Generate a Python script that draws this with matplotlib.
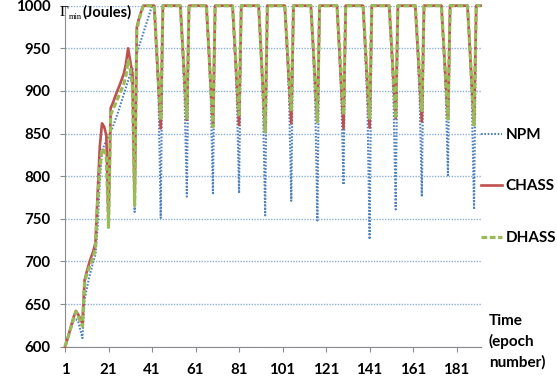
import matplotlib.pyplot as plt

# epochs 1..192, one value per epoch
epochs = list(range(1, 193))

npm = [
    600, 608, 616, 624, 631, 632, 630, 620, 610, 655, 668, 680,
    690, 700, 708, 740, 795, 830, 836, 842, 846, 852, 858, 865,
    872, 880, 888, 896, 904, 912, 920, 928, 758, 944, 952, 960,
    968, 976, 984, 992, 1000, 1000, 950, 890, 751, 1000, 1000, 1000,
    1000, 1000, 1000, 1000, 1000, 1000, 948, 888, 776, 1000, 1000, 1000,
    1000, 1000, 1000, 1000, 1000, 1000, 950, 890, 780, 1000, 1000, 1000,
    1000, 1000, 1000, 1000, 1000, 1000, 949, 889, 780, 1000, 1000, 1000,
    1000, 1000, 1000, 1000, 1000, 1000, 946, 883, 754, 1000, 1000, 1000,
    1000, 1000, 1000, 1000, 1000, 1000, 950, 890, 771, 1000, 1000, 1000,
    1000, 1000, 1000, 1000, 1000, 1000, 948, 885, 748, 1000, 1000, 1000,
    1000, 1000, 1000, 1000, 1000, 1000, 950, 892, 790, 1000, 1000, 1000,
    1000, 1000, 1000, 1000, 1000, 1000, 945, 882, 726, 1000, 1000, 1000,
    1000, 1000, 1000, 1000, 1000, 1000, 950, 888, 761, 1000, 1000, 1000,
    1000, 1000, 1000, 1000, 1000, 1000, 950, 890, 776, 1000, 1000, 1000,
    1000, 1000, 1000, 1000, 1000, 1000, 952, 895, 801, 1000, 1000, 1000,
    1000, 1000, 1000, 1000, 1000, 1000, 950, 888, 761, 1000, 1000, 1000,
]

chass = [
    600, 608, 617, 626, 635, 642, 638, 633, 627, 678, 688, 697,
    705, 712, 722, 780, 835, 862, 858, 848, 743, 880, 886, 893,
    900, 906, 913, 920, 932, 950, 935, 920, 766, 975, 985, 993,
    1000, 1000, 1000, 1000, 1000, 1000, 952, 904, 856, 1000, 1000, 1000,
    1000, 1000, 1000, 1000, 1000, 1000, 955, 911, 866, 1000, 1000, 1000,
    1000, 1000, 1000, 1000, 1000, 1000, 953, 905, 858, 1000, 1000, 1000,
    1000, 1000, 1000, 1000, 1000, 1000, 953, 907, 860, 1000, 1000, 1000,
    1000, 1000, 1000, 1000, 1000, 1000, 951, 902, 852, 1000, 1000, 1000,
    1000, 1000, 1000, 1000, 1000, 1000, 954, 908, 862, 1000, 1000, 1000,
    1000, 1000, 1000, 1000, 1000, 1000, 955, 909, 864, 1000, 1000, 1000,
    1000, 1000, 1000, 1000, 1000, 1000, 952, 904, 856, 1000, 1000, 1000,
    1000, 1000, 1000, 1000, 1000, 1000, 952, 905, 857, 1000, 1000, 1000,
    1000, 1000, 1000, 1000, 1000, 1000, 956, 912, 868, 1000, 1000, 1000,
    1000, 1000, 1000, 1000, 1000, 1000, 955, 909, 864, 1000, 1000, 1000,
    1000, 1000, 1000, 1000, 1000, 1000, 956, 912, 868, 1000, 1000, 1000,
    1000, 1000, 1000, 1000, 1000, 1000, 953, 907, 860, 1000, 1000, 1000,
]

dhass = [
    600, 608, 616, 625, 634, 641, 636, 630, 624, 675, 685, 692,
    698, 706, 715, 770, 810, 832, 830, 822, 740, 872, 878, 884,
    890, 896, 902, 908, 918, 936, 925, 905, 766, 972, 983, 992,
    1000, 1000, 1000, 1000, 1000, 1000, 955, 911, 866, 1000, 1000, 1000,
    1000, 1000, 1000, 1000, 1000, 1000, 956, 912, 868, 1000, 1000, 1000,
    1000, 1000, 1000, 1000, 1000, 1000, 953, 905, 858, 1000, 1000, 1000,
    1000, 1000, 1000, 1000, 1000, 1000, 957, 915, 872, 1000, 1000, 1000,
    1000, 1000, 1000, 1000, 1000, 1000, 951, 902, 852, 1000, 1000, 1000,
    1000, 1000, 1000, 1000, 1000, 1000, 959, 917, 876, 1000, 1000, 1000,
    1000, 1000, 1000, 1000, 1000, 1000, 955, 909, 864, 1000, 1000, 1000,
    1000, 1000, 1000, 1000, 1000, 1000, 957, 915, 872, 1000, 1000, 1000,
    1000, 1000, 1000, 1000, 1000, 1000, 956, 912, 868, 1000, 1000, 1000,
    1000, 1000, 1000, 1000, 1000, 1000, 956, 912, 868, 1000, 1000, 1000,
    1000, 1000, 1000, 1000, 1000, 1000, 959, 918, 877, 1000, 1000, 1000,
    1000, 1000, 1000, 1000, 1000, 1000, 956, 911, 867, 1000, 1000, 1000,
    1000, 1000, 1000, 1000, 1000, 1000, 953, 907, 860, 1000, 1000, 1000,
]

x_ticks = [1, 21, 41, 61, 81, 101, 121, 141, 161, 181]
y_ticks = [600, 650, 700, 750, 800, 850, 900, 950, 1000]
series_names = ["NPM", "CHASS", "DHASS"]

plt.rcParams['font.family'] = ['Lato', 'DejaVu Sans']

fig = plt.figure(figsize=(5.57, 3.83), dpi=100)
ax = fig.add_axes([0.1167, 0.0948, 0.7461, 0.8903])

ax.plot(epochs, npm, color='#4F81BD', lw=1.5, linestyle=(0, (0.8, 0.8)),
        label=series_names[0], clip_on=False, zorder=3)
ax.plot(epochs, chass, color='#C0504D', lw=1.9, label=series_names[1],
        clip_on=False, zorder=4)
ax.plot(epochs, dhass, color='#9BBB59', lw=2.3, linestyle=(0, (1.8, 0.8)),
        label=series_names[2], clip_on=False, zorder=5)

ax.set_xlim(1, 192)
ax.set_ylim(600, 1000)
ax.set_xticks(x_ticks)
ax.set_xticklabels([str(t) for t in x_ticks])
ax.set_yticks(y_ticks)
ax.set_yticklabels([str(t) for t in y_ticks])

# dotted blue gridlines like the excel original
ax.yaxis.grid(True, color='#8DB0DC', lw=1.0, linestyle=(0, (1, 1)))
ax.set_axisbelow(True)

for side in ['top', 'right']:
    ax.spines[side].set_visible(False)
for side in ['left', 'bottom']:
    ax.spines[side].set_color('#8C8C8C')
    ax.spines[side].set_linewidth(0.8)

ax.tick_params(axis='both', direction='out', length=3.6, width=0.8,
               color='#8C8C8C', labelsize=10.8)
ax.tick_params(axis='y', pad=7)
ax.tick_params(axis='x', pad=8)
for lab in ax.get_xticklabels() + ax.get_yticklabels():
    lab.set_fontweight('bold')

# axis title in the top left corner
fig.text(60 / 557, 1 - 13 / 383, "Γ", family='Liberation Serif', fontsize=11,
         ha='left', va='center')
fig.text(69 / 557, 1 - 17 / 383, "min", family='Liberation Serif', fontsize=6,
         ha='left', va='center')
fig.text(83 / 557, 1 - 12 / 383, "(Joules)", fontsize=10.5, fontweight='bold',
         ha='left', va='center')

leg = fig.legend(loc='center left', bbox_to_anchor=(481 / 557, 1 - 186.5 / 383),
                 frameon=False, borderpad=0, borderaxespad=0,
                 labelspacing=2.45, handlelength=1.35, handletextpad=0.25,
                 prop={'weight': 'bold', 'size': 11})

fig.text(489 / 557, 1 - 314 / 383, "Time\n(epoch\nnumber)", fontsize=11,
         fontweight='bold', ha='left', va='top', linespacing=1.5)

fig.savefig('out.png', dpi=100)
